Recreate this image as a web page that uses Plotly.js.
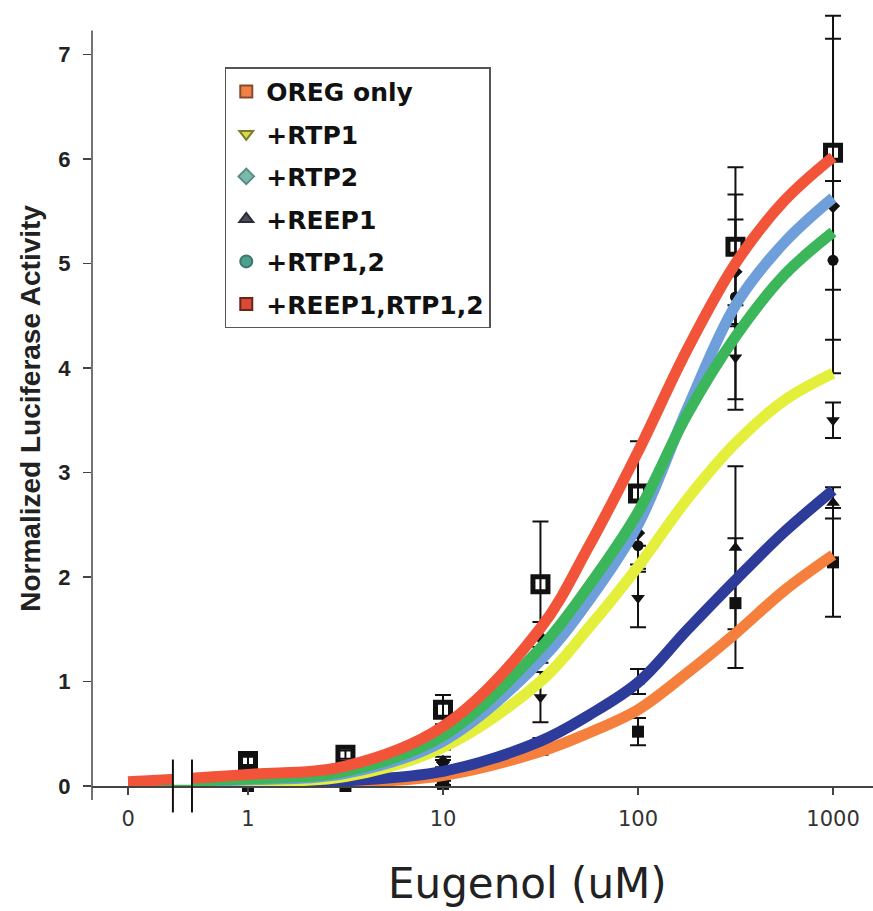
<!DOCTYPE html>
<html>
<head>
<meta charset="utf-8">
<script src="https://cdn.plot.ly/plotly-3.0.1.min.js"></script>
<style>html,body{margin:0;padding:0;background:#fff;}#chart{width:873px;height:911px;}</style>
</head>
<body>
<div id="chart"></div>
<script>
// ---- data ----
const SERIES = ["OREG only", "+RTP1", "+RTP2", "+REEP1", "+RTP1,2", "+REEP1,RTP1,2"];
const CONC = [1, 3.16, 10, 31.6, 100, 316, 1000];                          // uM, measured points
const FIT_CONC = [0, 1, 3.16, 10, 31.6, 56.2, 100, 178, 316, 562, 1000];   // uM, fitted curves

const MEAN_OREG   = [0.00, 0.00, 0.02, 0.35, 0.52, 1.75, 2.14];
const ERR_OREG    = [0.03, 0.03, 0.03, 0.05, 0.13, 0.62, 0.52];
const MEAN_RTP1   = [0.05, 0.10, 0.20, 0.85, 1.80, 4.10, 3.50];
const ERR_RTP1    = [0.03, 0.03, 0.05, 0.24, 0.28, 0.50, 0.17];
const MEAN_RTP2   = [0.08, 0.12, 0.23, 1.42, 2.42, 4.92, 5.55];
const ERR_RTP2    = [0.03, 0.03, 0.05, 0.15, 0.30, 0.50, 1.60];
const MEAN_REEP1  = [0.01, 0.02, 0.05, 0.41, 1.00, 2.28, 2.71];
const ERR_REEP1   = [0.03, 0.03, 0.04, 0.05, 0.12, 0.78, 0.15];
const MEAN_RTP12  = [0.10, 0.14, 0.40, 1.30, 2.30, 4.68, 5.03];
const ERR_RTP12   = [0.03, 0.03, 0.05, 0.12, 0.25, 0.98, 0.76];
const MEAN_ALL    = [0.24, 0.30, 0.73, 1.93, 2.80, 5.16, 6.06];
const ERR_ALL     = [0.04, 0.04, 0.14, 0.60, 0.50, 0.76, 1.31];

const FIT_OREG  = [0.00, 0.01, 0.03, 0.10, 0.33, 0.51, 0.73, 1.08, 1.46, 1.87, 2.21];
const FIT_RTP1  = [0.02, 0.04, 0.09, 0.37, 1.00, 1.52, 2.10, 2.74, 3.28, 3.69, 3.95];
const FIT_RTP2  = [0.03, 0.06, 0.12, 0.43, 1.20, 1.78, 2.50, 3.60, 4.60, 5.20, 5.63];
const FIT_REEP1 = [0.00, 0.02, 0.05, 0.14, 0.43, 0.68, 0.99, 1.49, 1.97, 2.43, 2.83];
const FIT_RTP12 = [0.03, 0.07, 0.14, 0.48, 1.32, 1.92, 2.62, 3.55, 4.30, 4.89, 5.30];
const FIT_ALL   = [0.04, 0.11, 0.19, 0.57, 1.51, 2.30, 3.20, 4.17, 5.00, 5.60, 6.02];

const X_TICKS = [0, 1, 10, 100, 1000];
const X_TICKTEXT = ["0", "1", "10", "100", "1000"];
const Y_TICKS = [0, 1, 2, 3, 4, 5, 6, 7];

// ---- display mapping ----
const ZERO_POS = 0.2427;            // where "0" sits left of the axis break
const BREAK_L = 0.412, BREAK_R = 0.516;
const mapX = v => (v === 0 ? ZERO_POS : v);

const means = [MEAN_OREG, MEAN_RTP1, MEAN_RTP2, MEAN_REEP1, MEAN_RTP12, MEAN_ALL];
const errs  = [ERR_OREG, ERR_RTP1, ERR_RTP2, ERR_REEP1, ERR_RTP12, ERR_ALL];
const fits  = [FIT_OREG, FIT_RTP1, FIT_RTP2, FIT_REEP1, FIT_RTP12, FIT_ALL];
const symbols = ["square", "triangle-down", "diamond", "triangle-up", "circle", "square-open"];
const sizes = [12, 12, 11, 12, 11, 15];
const curveColors = ["#f5803e", "#e4ef3c", "#6f9fda", "#2d3b9b", "#3bb65a", "#f2543a"];
const legendColors = ["#ef8046", "#d8dc4c", "#7ab9ad", "#4a4e5c", "#4f9e8e", "#d94a35"];
const legendLine = ["#8a4a2a", "#7c7c2c", "#5a8c84", "#2a2a3a", "#357a6c", "#6a2418"];
const legendSymbols = ["square", "triangle-down", "diamond", "triangle-up", "circle", "square"];

const traces = [];
// measured points (black) with error bars
for (let i = 0; i < SERIES.length; i++) {
  traces.push({
    type: "scatter", mode: "markers", showlegend: false, cliponaxis: false,
    x: CONC.map(mapX), y: means[i],
    error_y: {type: "data", array: errs[i], visible: true, color: "#111", thickness: 2, width: 8},
    marker: {symbol: symbols[i], size: sizes[i], color: "#111",
             line: {color: "#111", width: i === 5 ? 5 : 0}},
    hoverinfo: "skip"
  });
}
// fitted curves (draw order: orange, dark blue, yellow, light blue, green, red)
const order = [0, 3, 1, 2, 4, 5];
for (const i of order) {
  traces.push({
    type: "scatter", mode: "lines", showlegend: false,
    x: FIT_CONC.map(mapX), y: fits[i],
    line: {color: curveColors[i], width: 11, shape: "spline", smoothing: 1},
    hoverinfo: "skip"
  });
}
// legend entries
for (let i = 0; i < SERIES.length; i++) {
  traces.push({
    type: "scatter", mode: "markers", name: SERIES[i], legendgroup: "g" + i,
    x: [null], y: [null],
    marker: {symbol: legendSymbols[i], size: 10, color: legendColors[i],
             line: {color: legendLine[i], width: 1}}
  });
}

// plot area: top margin 8px, y range up to 7.445 -> ~104.5 px per unit; axis line drawn to 7.23
const Y_TOP = 7.445, AXIS_TOP = 7.23;
const layout = {
  width: 873, height: 911,
  margin: {l: 92, r: 0, t: 8, b: 125},
  paper_bgcolor: "#fff", plot_bgcolor: "#fff",
  showlegend: true,
  legend: {
    x: 0.170, y: 0.924, xanchor: "left", yanchor: "top",
    bgcolor: "#fff", bordercolor: "#555", borderwidth: 1.5,
    font: {family: "DejaVu Sans", size: 25, color: "#111", weight: "bold"},
    traceorder: "grouped", tracegroupgap: 7, itemsizing: "constant"
  },
  xaxis: {
    type: "log", range: [-0.8, 3.205],
    tickvals: X_TICKS.map(mapX), ticktext: X_TICKTEXT,
    ticks: "outside", ticklen: 7, tickwidth: 1.5, tickcolor: "#444",
    showline: true, linecolor: "#444", linewidth: 1.5,
    showgrid: false, zeroline: false,
    tickfont: {family: "DejaVu Sans", size: 21, color: "#333"},
    ticklabelstandoff: 6
  },
  yaxis: {
    range: [0, Y_TOP], tickvals: Y_TICKS,
    ticks: "outside", ticklen: 8, tickwidth: 1.5, tickcolor: "#444",
    showline: false,
    showgrid: false, zeroline: false,
    tickfont: {family: "Liberation Sans", size: 22, color: "#222", weight: "bold"},
    ticklabelstandoff: 8
  },
  shapes: [
    {type: "line", xref: "paper", yref: "paper", x0: 0, x1: 0, y0: -0.018, y1: AXIS_TOP / Y_TOP,
     line: {color: "#444", width: 1.5}, layer: "above"},
    {type: "rect", xref: "x", yref: "y", x0: BREAK_L, x1: BREAK_R, y0: 0.012, y1: 0.3,
     fillcolor: "#fff", line: {width: 0}, layer: "above"},
    {type: "line", xref: "x", yref: "paper", x0: BREAK_L, x1: BREAK_L, y0: -0.034, y1: 0.034,
     line: {color: "#111", width: 2}, layer: "above"},
    {type: "line", xref: "x", yref: "paper", x0: BREAK_R, x1: BREAK_R, y0: -0.034, y1: 0.034,
     line: {color: "#111", width: 2}, layer: "above"}
  ],
  annotations: [
    {text: "Eugenol (uM)", xref: "paper", yref: "paper", x: 0.558, y: -0.125,
     xanchor: "center", yanchor: "middle", showarrow: false,
     font: {family: "DejaVu Sans", size: 42, color: "#222"}},
    {text: "Normalized Luciferase Activity", xref: "paper", yref: "paper", x: -0.078, y: 0.485,
     xanchor: "center", yanchor: "middle", showarrow: false, textangle: -90,
     font: {family: "Liberation Sans", size: 28, color: "#222", weight: "bold"}}
  ]
};

Plotly.newPlot("chart", traces, layout, {staticPlot: true, displayModeBar: false});
</script>
</body>
</html>
